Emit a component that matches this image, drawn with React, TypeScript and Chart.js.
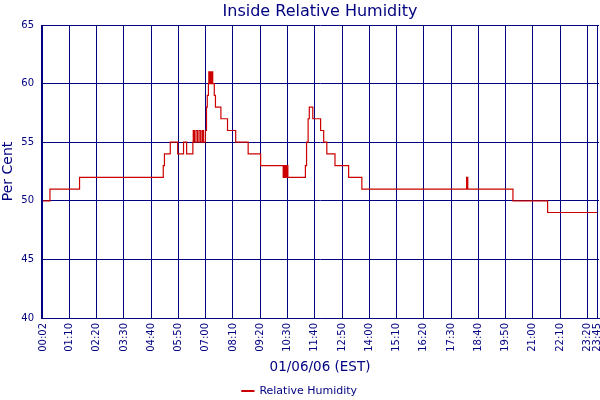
import { useEffect, useRef } from 'react';
import { Chart, registerables } from 'chart.js';

Chart.register(...registerables);

// readings (time of day, % relative humidity), taken where the trace changes level
const times = [
  '00:02', '00:20', '00:26', '01:36', '01:42', '05:11', '05:14', '05:16', '05:29', '05:34',
  '05:48', '05:54', '06:03', '06:07', '06:11', '06:15', '06:27', '06:28', '06:31', '06:35',
  '06:39', '06:43', '06:47', '06:51', '06:54', '06:59', '07:02', '07:04', '07:07', '07:08',
  '07:10', '07:12', '07:14', '07:16', '07:18', '07:22', '07:25', '07:28', '07:39', '07:42',
  '07:56', '07:59', '08:17', '08:20', '08:49', '08:51', '09:21', '09:24', '10:19', '10:22',
  '10:25', '10:28', '10:31', '10:34', '11:16', '11:19', '11:23', '11:26', '11:28', '11:35',
  '11:39', '11:55', '11:59', '12:03', '12:07', '12:11', '12:19', '12:32', '12:41', '13:07',
  '13:11', '13:41', '13:46', '18:10', '18:13', '18:17', '20:09', '20:14', '21:38', '21:43',
  '23:45',
];
const humidity = [
  50, 50, 51, 51, 52, 52, 53, 54, 54, 55,
  55, 54, 54, 55, 55, 54, 54, 55, 56, 55,
  56, 55, 56, 55, 56, 55, 56, 58, 59, 60,
  61, 60, 61, 60, 61, 60, 59, 58, 58, 57,
  57, 56, 56, 55, 55, 54, 54, 53, 53, 52,
  53, 52, 53, 52, 52, 53, 55, 57, 58, 58,
  57, 57, 56, 56, 55, 55, 54, 54, 53, 53,
  52, 52, 51, 51, 52, 51, 51, 50, 50, 49,
  49,
];
const xTickLabels = [
  '00:02', '01:10', '02:20', '03:30', '04:40', '05:50', '07:00', '08:10', '09:20', '10:30', '11:40',
  '12:50', '14:00', '15:10', '16:20', '17:30', '18:40', '19:50', '21:00', '22:10', '23:20', '23:45',
];
const yTicks = [40, 45, 50, 55, 60, 65];

const NAVY = '#000080';
const RED = '#cc0000';
const FONT = '"DejaVu Sans", Verdana, sans-serif';

function toMinutes(t: string) {
  const [h, m] = t.split(':').map(Number);
  return h * 60 + m;
}

function toLabel(v: number) {
  const h = Math.floor(v / 60);
  const m = Math.round(v % 60);
  return String(h).padStart(2, '0') + ':' + String(m).padStart(2, '0');
}

// title centred over the plot area rather than the whole canvas
const plotTitle = {
  id: 'plotTitle',
  afterDraw(chart: Chart) {
    const { ctx, chartArea } = chart;
    ctx.save();
    ctx.font = '16px ' + FONT;
    ctx.fillStyle = NAVY;
    ctx.textAlign = 'center';
    ctx.textBaseline = 'alphabetic';
    ctx.fillText('Inside Relative Humidity', (chartArea.left + chartArea.right) / 2, 16);
    ctx.restore();
  },
};

export default function App() {
  const canvasRef = useRef<HTMLCanvasElement>(null);

  useEffect(() => {
    if (!canvasRef.current) return;
    Chart.defaults.font.family = FONT;

    const chart = new Chart(canvasRef.current, {
      type: 'line',
      data: {
        datasets: [
          {
            label: 'Relative Humidity',
            data: times.map((t, i) => ({ x: toMinutes(t), y: humidity[i] })),
            borderColor: RED,
            backgroundColor: RED,
            borderWidth: 1.2,
            pointRadius: 0,
            stepped: 'after',
            fill: false,
          },
        ],
      },
      options: {
        animation: false,
        responsive: true,
        maintainAspectRatio: false,
        layout: { padding: { top: 25, right: 1, bottom: -6.5, left: 0 } },
        plugins: {
          tooltip: { enabled: false },
          legend: {
            position: 'bottom',
            labels: {
              color: NAVY,
              font: { size: 11 },
              boxWidth: 12,
              boxHeight: 1,
              padding: 6,
            },
          },
        },
        scales: {
          x: {
            type: 'linear',
            min: -3,
            max: 1430,
            afterBuildTicks: (scale: any) => {
              scale.ticks = xTickLabels.map(t => ({ value: toMinutes(t) }));
            },
            afterFit: (scale: any) => {
              scale.height = 61.5;
              scale.paddingLeft = 0;
              scale.paddingRight = 0;
            },
            ticks: {
              autoSkip: false,
              minRotation: 90,
              maxRotation: 90,
              color: NAVY,
              font: { size: 10 },
              padding: 5,
              callback: (v: any) => toLabel(Number(v)),
            },
            grid: { color: NAVY, lineWidth: 1, drawTicks: false },
            border: { color: NAVY },
            title: {
              display: true,
              text: '01/06/06 (EST)',
              color: NAVY,
              font: { size: 13.5 },
              padding: { top: 0, bottom: 4 },
            },
          },
          y: {
            min: 40,
            max: 65,
            afterBuildTicks: (scale: any) => {
              scale.ticks = yTicks.map(v => ({ value: v }));
            },
            afterFit: (scale: any) => {
              scale.width = 41;
            },
            ticks: { color: NAVY, font: { size: 10 }, padding: 7 },
            grid: { color: NAVY, lineWidth: 1, drawTicks: false },
            border: { color: NAVY },
            title: {
              display: true,
              text: 'Per Cent',
              color: NAVY,
              font: { size: 14 },
              padding: 0,
            },
          },
        },
      },
      plugins: [plotTitle],
    });

    return () => chart.destroy();
  }, []);

  return (
    <div style={{ position: 'fixed', left: 0, top: 0, width: 600, height: 400, background: '#fff' }}>
      <canvas ref={canvasRef} />
    </div>
  );
}
